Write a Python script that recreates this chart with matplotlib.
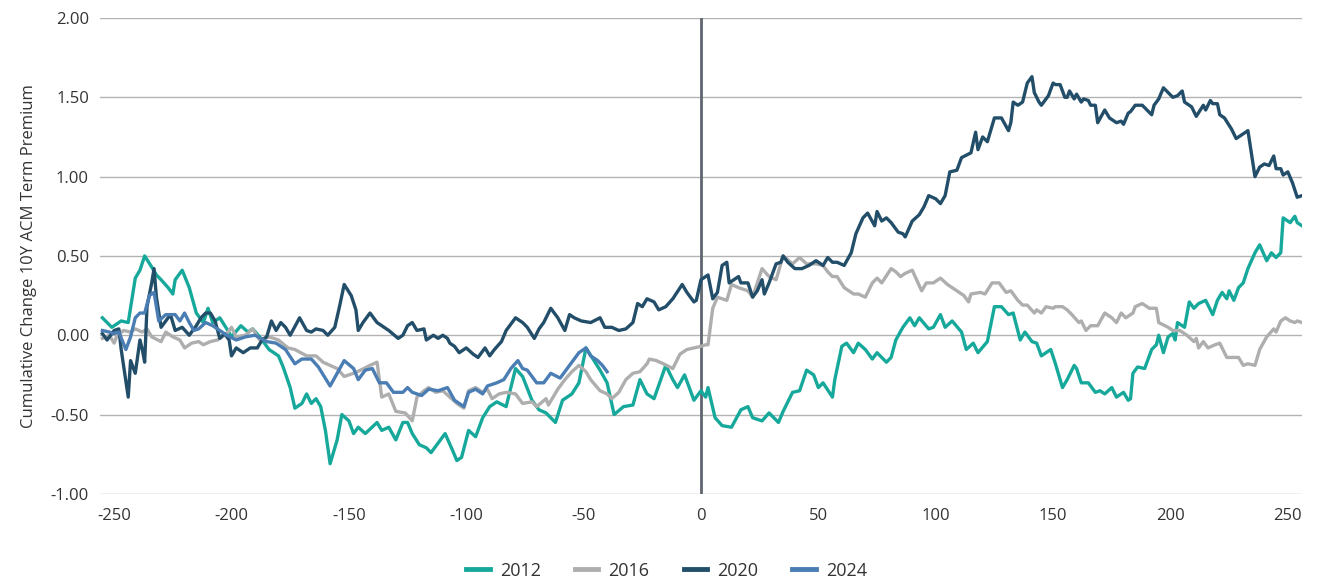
import matplotlib
matplotlib.use('Agg')
from matplotlib import pyplot as plt

plt.rcParams['font.family'] = ['Open Sans', 'DejaVu Sans']

# 2012
x12 = [-255, -251, -247, -244, -241, -239, -237, -234, -232, -230, -227, -225, -224, -221, -218,
       -215, -212, -210, -208, -205, -202, -200, -196, -193, -191, -188, -184, -180, -178, -175,
       -173, -170, -168, -166, -164, -162, -160, -158, -155, -153, -150, -148, -146, -143, -138,
       -136, -133, -130, -127, -125, -123, -120, -117, -115, -113, -109, -106, -104, -102, -99,
       -96, -94, -93, -90, -87, -83, -79, -76, -72, -69, -66, -62, -59, -55, -52, -49, -46, -43,
       -40, -37, -33, -29, -26, -23, -20, -15, -12, -10, -7, -3, 0, 2, 3, 6, 9, 13, 17, 20, 22,
       26, 29, 33, 35, 39, 42, 45, 48, 50, 52, 56, 57, 60, 62, 65, 67, 70, 73, 75, 79, 81, 83,
       86, 89, 91, 93, 97, 99, 102, 104, 107, 111, 113, 116, 118, 122, 125, 128, 131, 133, 136,
       138, 141, 143, 145, 149, 151, 154, 156, 157, 159, 160, 162, 165, 168, 170, 172, 175, 177,
       180, 182, 183, 184, 186, 189, 192, 194, 195, 197, 199, 201, 202, 203, 206, 208, 210, 212,
       215, 218, 220, 222, 224, 225, 227, 229, 231, 233, 236, 238, 241, 243, 245, 247, 248, 251,
       253, 254, 256]
y12 = [0.11, 0.05, 0.09, 0.08, 0.36, 0.41, 0.50, 0.43, 0.38, 0.35, 0.30, 0.26, 0.35, 0.41, 0.30,
       0.14, 0.08, 0.17, 0.08, 0.11, 0.04, -0.01, 0.06, 0.02, 0.04, -0.01, -0.09, -0.13, -0.20, -0.33,
       -0.46, -0.43, -0.37, -0.43, -0.40, -0.45, -0.60, -0.81, -0.66, -0.50, -0.54, -0.62, -0.58, -0.62, -0.55,
       -0.60, -0.58, -0.66, -0.55, -0.55, -0.62, -0.69, -0.71, -0.74, -0.70, -0.62, -0.72, -0.79, -0.77, -0.60,
       -0.64, -0.56, -0.52, -0.45, -0.42, -0.45, -0.21, -0.26, -0.41, -0.47, -0.49, -0.55, -0.41, -0.37, -0.30, -0.08, -0.15, -0.22,
       -0.30, -0.50, -0.45, -0.44, -0.28, -0.37, -0.40, -0.19, -0.28, -0.33, -0.25, -0.41, -0.35, -0.39, -0.33, -0.52, -0.57, -0.58, -0.47, -0.45, -0.52,
       -0.54, -0.49, -0.55, -0.48, -0.36, -0.35, -0.22, -0.25, -0.33, -0.30, -0.39, -0.28, -0.07, -0.05, -0.11, -0.05, -0.09, -0.15, -0.11, -0.17, -0.14, -0.03,
       0.05, 0.11, 0.06, 0.11, 0.04, 0.05, 0.13, 0.05, 0.09, 0.02, -0.09, -0.05, -0.11, -0.04, 0.18, 0.18, 0.13, 0.14, -0.03,
       0.02, -0.04, -0.05, -0.13, -0.09, -0.18, -0.33, -0.28, -0.25, -0.19, -0.21, -0.30, -0.30, -0.36, -0.35, -0.37, -0.33, -0.39,
       -0.36, -0.41, -0.40, -0.24, -0.20, -0.21, -0.09, -0.06, 0.00, -0.11, -0.01, 0.01, -0.03, 0.08, 0.05, 0.21, 0.17, 0.20,
       0.22, 0.13, 0.22, 0.27, 0.23, 0.28, 0.22, 0.30, 0.33, 0.42, 0.52, 0.57, 0.47, 0.52, 0.49, 0.52, 0.74, 0.71,
       0.75, 0.71, 0.69]

# 2016
x16 = [-255, -252, -250, -249, -246, -243, -241, -238, -236, -234, -230, -228, -225, -222, -220,
       -217, -214, -212, -209, -206, -202, -200, -198, -194, -191, -188, -184, -180, -176, -173,
       -168, -164, -161, -158, -155, -152, -148, -145, -141, -138, -136, -133, -130, -126, -123,
       -121, -118, -116, -113, -110, -107, -104, -101, -99, -96, -93, -91, -89, -86, -83, -79,
       -76, -72, -70, -66, -65, -61, -58, -55, -52, -49, -47, -43, -40, -38, -35, -32, -29, -26,
       -23, -22, -19, -16, -12, -9, -6, -3, 0, 2, 3, 5, 7, 11, 13, 16, 20, 22, 26, 29, 32, 35,
       39, 42, 45, 49, 52, 54, 56, 58, 61, 63, 65, 67, 70, 73, 75, 77, 81, 83, 85, 87, 90, 94,
       96, 99, 102, 105, 109, 112, 114, 115, 119, 121, 124, 127, 130, 132, 135, 137, 139, 142,
       143, 145, 147, 150, 151, 154, 156, 158, 161, 162, 164, 166, 169, 172, 175, 177, 179, 181,
       184, 185, 188, 191, 194, 195, 199, 201, 204, 207, 210, 211, 212, 214, 216, 219, 221, 224,
       227, 229, 231, 233, 236, 238, 241, 244, 245, 247, 249, 251, 253, 254, 256]
y16 = [-0.02, 0.00, -0.05, -0.01, 0.03, 0.02, 0.04, 0.02, 0.04, -0.01, -0.04, 0.02, -0.01, -0.03, -0.08,
       -0.05, -0.04, -0.06, -0.04, -0.03, 0.01, 0.05, -0.01, 0.00, 0.04, -0.03, -0.01, -0.03, -0.08, -0.09,
       -0.13, -0.13, -0.17, -0.19, -0.21, -0.26, -0.24, -0.22, -0.19, -0.17, -0.39, -0.37, -0.48, -0.49, -0.54,
       -0.39, -0.35, -0.33, -0.36, -0.35, -0.39, -0.43, -0.46, -0.35, -0.33, -0.36, -0.34, -0.40, -0.37, -0.36, -0.37,
       -0.43, -0.42, -0.45, -0.40, -0.44, -0.34, -0.28, -0.23, -0.19, -0.23, -0.28, -0.35, -0.37, -0.40, -0.36, -0.28, -0.24, -0.23,
       -0.18, -0.15, -0.16, -0.18, -0.21, -0.12, -0.09, -0.08, -0.07, -0.06, -0.06, 0.17, 0.24, 0.22, 0.32, 0.30, 0.28, 0.24, 0.42, 0.37, 0.35, 0.50,
       0.45, 0.49, 0.45, 0.45, 0.44, 0.40, 0.37, 0.37, 0.30, 0.28, 0.26, 0.26, 0.24, 0.33, 0.36, 0.33, 0.42, 0.40, 0.37, 0.39, 0.41, 0.28,
       0.33, 0.33, 0.36, 0.32, 0.28, 0.25, 0.21, 0.26, 0.27, 0.26, 0.33, 0.33, 0.27, 0.28, 0.22, 0.19, 0.19, 0.14,
       0.16, 0.14, 0.18, 0.17, 0.18, 0.18, 0.16, 0.13, 0.08, 0.09, 0.03, 0.06, 0.06, 0.14, 0.11, 0.08, 0.14, 0.11,
       0.14, 0.18, 0.20, 0.17, 0.17, 0.08, 0.05, 0.03, 0.03, 0.00, -0.04, -0.02, -0.08, -0.04, -0.08, -0.06, -0.05, -0.14,
       -0.14, -0.14, -0.19, -0.18, -0.19, -0.09, -0.01, 0.04, 0.02, 0.09, 0.11, 0.09, 0.08, 0.09, 0.08]

# 2020
x20 = [-255, -253, -250, -248, -247, -244, -243, -241, -239, -238, -237, -236, -234, -233, -232,
       -230, -228, -226, -224, -221, -218, -215, -213, -211, -209, -207, -205, -203, -201, -200,
       -198, -195, -192, -189, -187, -185, -183, -181, -179, -177, -175, -171, -168, -166, -164,
       -161, -159, -156, -154, -152, -149, -147, -146, -144, -141, -138, -136, -133, -129, -127,
       -125, -123, -121, -118, -117, -114, -112, -110, -108, -107, -105, -103, -100, -97, -95, -92,
       -90, -88, -85, -83, -79, -76, -74, -71, -69, -67, -64, -61, -58, -56, -54, -51, -47, -43,
       -41, -38, -35, -32, -29, -27, -25, -23, -20, -18, -15, -12, -8, -6, -3, -2, 0, 3, 5, 7, 9,
       11, 12, 15, 16, 17, 20, 22, 24, 26, 27, 29, 32, 34, 35, 37, 40, 43, 46, 49, 52, 54, 56, 58,
       61, 64, 66, 69, 71, 74, 75, 77, 79, 81, 84, 86, 87, 90, 93, 95, 97, 100, 102, 104, 106,
       109, 111, 115, 117, 118, 120, 122, 125, 128, 131, 132, 133, 135, 137, 139, 141, 142, 144,
       145, 148, 150, 151, 153, 155, 156, 157, 159, 160, 162, 163, 165, 166, 168, 169, 172, 174,
       177, 179, 180, 182, 183, 185, 188, 192, 193, 195, 197, 199, 201, 203, 205, 206, 209, 211,
       214, 215, 217, 218, 220, 221, 223, 226, 228, 230, 233, 236, 238, 240, 242, 244, 245, 247,
       248, 250, 252, 254, 256]
y20 = [0.01, -0.03, 0.03, 0.04, -0.09, -0.39, -0.16, -0.24, -0.03, -0.09, -0.17, 0.18, 0.33, 0.42, 0.24,
       0.05, 0.09, 0.13, 0.03, 0.05, 0.00, 0.06, 0.11, 0.14, 0.14, 0.09, -0.02, 0.01, -0.03, -0.13,
       -0.08, -0.11, -0.08, -0.08, -0.03, -0.01, 0.09, 0.03, 0.08, 0.05, 0.00, 0.11, 0.03, 0.02, 0.04,
       0.03, 0.00, 0.05, 0.18, 0.32, 0.25, 0.16, 0.03, 0.08, 0.14, 0.08, 0.06, 0.03, -0.02, 0.00,
       0.06, 0.08, 0.03, 0.04, -0.03, 0.00, -0.02, 0.00, -0.02, -0.05, -0.07, -0.11, -0.08, -0.12, -0.14, -0.08,
       -0.13, -0.09, -0.04, 0.03, 0.11, 0.08, 0.05, -0.02, 0.04, 0.08, 0.17, 0.11, 0.03, 0.13, 0.11, 0.09, 0.08, 0.11,
       0.05, 0.05, 0.03, 0.04, 0.08, 0.20, 0.18, 0.23, 0.21, 0.16, 0.18, 0.23, 0.32, 0.27, 0.21, 0.22, 0.35, 0.38, 0.23, 0.27, 0.44,
       0.46, 0.33, 0.36, 0.37, 0.33, 0.33, 0.24, 0.28, 0.35, 0.26, 0.33, 0.45, 0.46, 0.50, 0.46, 0.42, 0.42, 0.44, 0.47, 0.44, 0.49, 0.46, 0.46,
       0.44, 0.52, 0.64, 0.74, 0.77, 0.69, 0.78, 0.72, 0.74, 0.71, 0.65, 0.64, 0.62, 0.72, 0.76, 0.81, 0.88, 0.86, 0.83, 0.88, 1.03,
       1.04, 1.12, 1.15, 1.28, 1.17, 1.25, 1.22, 1.37, 1.37, 1.29, 1.34, 1.47, 1.45, 1.47, 1.59, 1.63, 1.53, 1.47,
       1.45, 1.51, 1.59, 1.58, 1.58, 1.50, 1.50, 1.54, 1.49, 1.52, 1.47, 1.49, 1.48, 1.45, 1.45, 1.34, 1.42, 1.37,
       1.34, 1.35, 1.33, 1.40, 1.41, 1.45, 1.45, 1.39, 1.45, 1.49, 1.56, 1.53, 1.50, 1.51, 1.54, 1.47, 1.44, 1.38,
       1.45, 1.42, 1.48, 1.46, 1.46, 1.39, 1.37, 1.30, 1.24, 1.26, 1.29, 1.00, 1.06, 1.08, 1.07, 1.13, 1.05, 1.05,
       1.01, 1.03, 0.96, 0.87, 0.88]

# 2024
x24 = [-255, -252, -250, -248, -245, -243, -241, -239, -237, -235, -233, -231, -228, -224, -222,
       -220, -218, -216, -214, -211, -208, -205, -202, -198, -194, -190, -185, -181, -177, -173,
       -170, -166, -163, -158, -155, -152, -148, -146, -143, -140, -137, -134, -131, -127, -125,
       -123, -119, -116, -112, -108, -105, -101, -99, -96, -93, -91, -87, -84, -81, -78, -76, -74,
       -70, -67, -64, -60, -57, -55, -52, -49, -47, -44, -42, -40]
y24 = [0.03, 0.02, 0.01, 0.02, -0.09, -0.01, 0.11, 0.14, 0.14, 0.25, 0.27, 0.09, 0.13, 0.13, 0.09,
       0.14, 0.08, 0.03, 0.04, 0.08, 0.06, 0.03, 0.00, -0.03, -0.01, 0.00, -0.04, -0.05, -0.09, -0.18,
       -0.15, -0.15, -0.20, -0.32, -0.24, -0.16, -0.21, -0.28, -0.22, -0.21, -0.30, -0.30, -0.36, -0.36, -0.33,
       -0.36, -0.38, -0.34, -0.35, -0.33, -0.41, -0.45, -0.36, -0.34, -0.37, -0.32, -0.30, -0.28, -0.21, -0.16, -0.21, -0.22,
       -0.30, -0.30, -0.24, -0.27, -0.21, -0.17, -0.11, -0.08, -0.13, -0.16, -0.19, -0.23]

xticks = [-250, -200, -150, -100, -50, 0, 50, 100, 150, 200, 250]
yticks = [-1.0, -0.5, 0.0, 0.5, 1.0, 1.5, 2.0]

fig = plt.figure(figsize=(13.2, 5.81), dpi=100)
ax = fig.add_axes([0.0758, 0.150, 0.9105, 0.819])

ax.axvline(0, color='#5f6670', lw=2, zorder=3)
ax.plot(x12, y12, c='#16a99b', lw=2.4, label='2012', zorder=4)
ax.plot(x16, y16, c='#aeaeae', lw=2.4, label='2016', zorder=4)
ax.plot(x20, y20, c='#224e6a', lw=2.4, label='2020', zorder=5)
ax.plot(x24, y24, c='#4a7db3', lw=2.4, label='2024', zorder=5)

ax.set_xlim(-256, 256)
ax.set_ylim(-1.0, 2.0)
ax.set_xticks(xticks)
ax.set_xticklabels([str(t) for t in xticks])
ax.set_yticks(yticks)
ax.set_yticklabels(['%.2f' % t for t in yticks])
ax.yaxis.grid(True, color='#b3b3b3', lw=1)
ax.set_axisbelow(True)
for s in ax.spines.values():
	s.set_visible(False)
ax.tick_params(axis='both', length=0, labelsize=12, colors='#333333', pad=8)
ax.tick_params(axis='x', pad=10)
ax.set_ylabel('Cumulative Change 10Y ACM Term Premium', fontsize=12, color='#333333', labelpad=10)

leg = fig.legend(loc='center', bbox_to_anchor=(0.505, 0.018), ncol=4, frameon=False,
                 fontsize=13, handlelength=1.3, handletextpad=0.55, columnspacing=1.9,
                 labelcolor='#333333')
for h in leg.get_lines():
	h.set_linewidth(3.5)

fig.savefig('out.png', dpi=100)
